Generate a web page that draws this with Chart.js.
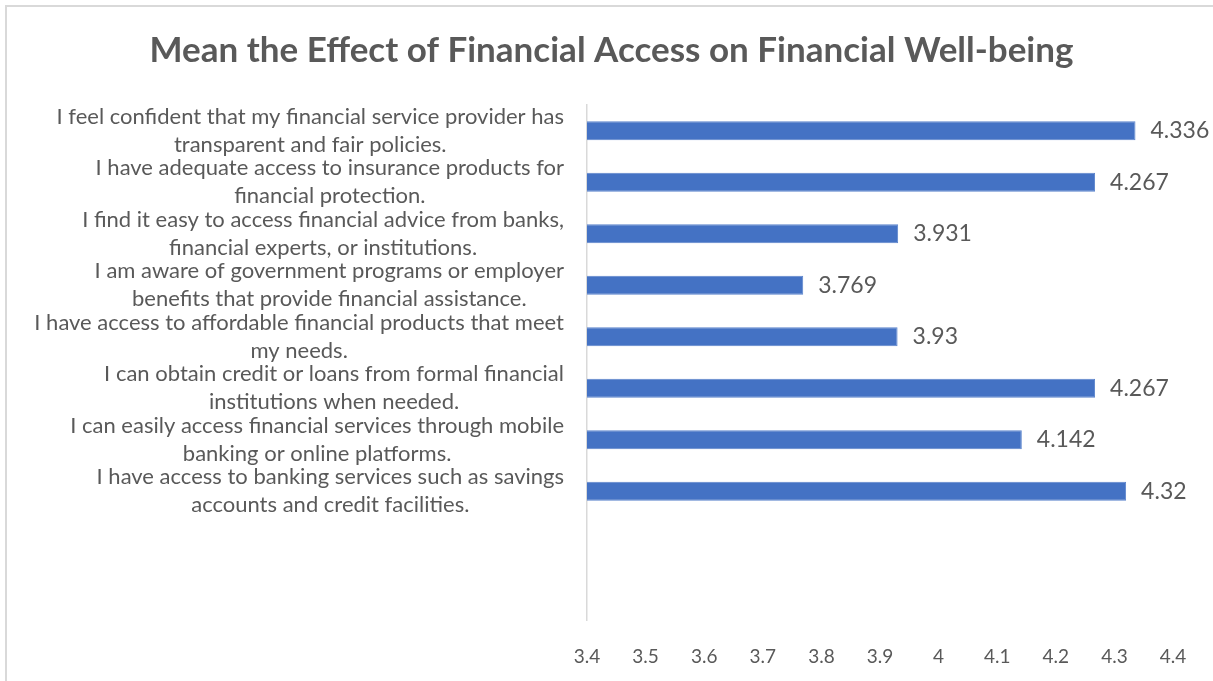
<!DOCTYPE html>
<html>
<head>
<meta charset="utf-8">
<script src="https://cdn.jsdelivr.net/npm/chart.js@4"></script>
<style>
  html, body { margin: 0; padding: 0; background: #fff; overflow: hidden; }
  #wrap { position: relative; width: 1213px; height: 681px; }
</style>
</head>
<body>
<div id="wrap"><canvas id="MeanChart" width="1213" height="681"></canvas></div>
<script>
const categories = [
    ['I feel confident that my financial service provider has', 'transparent and fair policies.'],
    ['I have adequate access to insurance products for', 'financial protection.'],
    ['I find it easy to access financial advice from banks,', 'financial experts, or institutions.'],
    ['I am aware of government programs or employer', 'benefits that provide financial assistance.'],
    ['I have access to affordable financial products that meet', 'my needs.'],
    ['I can obtain credit or loans from formal financial', 'institutions when needed.'],
    ['I can easily access financial services through mobile', 'banking or online platforms.'],
    ['I have access to banking services such as savings', 'accounts and credit facilities.'],
    '',
    ''
];
const meanValues = [4.336, 4.267, 3.931, 3.769, 3.93, 4.267, 4.142, 4.32, null, null];
const valueLabels = ['4.336', '4.267', '3.931', '3.769', '3.93', '4.267', '4.142', '4.32', '', ''];
const xTickLabels = ['3.4', '3.5', '3.6', '3.7', '3.8', '3.9', '4', '4.1', '4.2', '4.3', '4.4'];

const textGray = '#595959';
const fontFamily = 'Lato, "Liberation Sans", sans-serif';
const labelFont = '22px ' + fontFamily;

// light frame round the whole chart
const framePlugin = {
    id: 'frame',
    beforeDraw(chart) {
        const c = chart.ctx;
        c.save();
        c.strokeStyle = '#d9d9d9';
        c.lineWidth = 2;
        c.strokeRect(6, 6, chart.width + 20, chart.height + 20);
        c.restore();
    }
};

// category text: each block right aligned, its lines centred inside the block
const catLabelPlugin = {
    id: 'catLabels',
    afterDraw(chart) {
        const scale = chart.scales.y;
        const c = chart.ctx;
        c.save();
        c.font = labelFont;
        c.fillStyle = textGray;
        c.textAlign = 'center';
        c.textBaseline = 'middle';
        const right = chart.chartArea.left - 23;
        const lineH = 28;
        categories.forEach((lab, i) => {
            if (!lab) return;
            const lines = Array.isArray(lab) ? lab : [lab];
            let widest = 0;
            lines.forEach(l => { widest = Math.max(widest, c.measureText(l).width); });
            const cx = right - widest / 2;
            const cy = scale.getPixelForTick(i);
            const top = cy - (lines.length - 1) * lineH / 2;
            lines.forEach((l, k) => c.fillText(l, cx, top + k * lineH));
        });
        c.restore();
    }
};

// value written after the end of each bar
const valueLabelPlugin = {
    id: 'valueLabels',
    afterDatasetsDraw(chart) {
        const c = chart.ctx;
        const meta = chart.getDatasetMeta(0);
        c.save();
        c.font = '23px ' + fontFamily;
        c.fillStyle = textGray;
        c.textAlign = 'left';
        c.textBaseline = 'middle';
        meta.data.forEach((bar, i) => {
            if (meanValues[i] == null) return;
            c.fillText(valueLabels[i], bar.x + 15, bar.y);
        });
        c.restore();
    }
};

const ctx = document.getElementById('MeanChart').getContext('2d');
let meanChart = new Chart(ctx, {
    type: 'bar',
    data: {
        labels: categories,
        datasets: [{
            label: 'Mean',
            data: meanValues,
            backgroundColor: '#4472C4',
            borderColor: '#5b84cc',
            borderWidth: 1,
            borderSkipped: false,
            categoryPercentage: 1,
            barPercentage: 0.37
        }]
    },
    options: {
        indexAxis: 'y',
        responsive: false,
        animation: false,
        layout: { padding: { left: 50, right: 40, top: 0, bottom: 15 } },
        plugins: {
            legend: { display: false },
            tooltip: { enabled: false },
            title: {
                display: true,
                text: 'Mean the Effect of Financial Access on Financial Well-being',
                color: textGray,
                font: { family: fontFamily, size: 35, weight: 'bold' },
                padding: { top: 30, bottom: 33 }
            }
        },
        scales: {
            x: {
                min: 3.4,
                max: 4.4,
                grid: { display: false, drawTicks: false },
                border: { display: false },
                ticks: {
                    stepSize: 0.1,
                    padding: 25,
                    color: textGray,
                    font: { family: fontFamily, size: 19 },
                    callback: (v, i) => xTickLabels[i]
                },
                afterFit: (s) => { s.height = 46; }
            },
            y: {
                grid: { display: false, drawTicks: false },
                border: { display: true, color: '#d9d9d9', width: 1.5 },
                ticks: { display: false },
                afterFit: (s) => { s.width = 537; }
            }
        }
    },
    plugins: [framePlugin, catLabelPlugin, valueLabelPlugin]
});
</script>
</body>
</html>
